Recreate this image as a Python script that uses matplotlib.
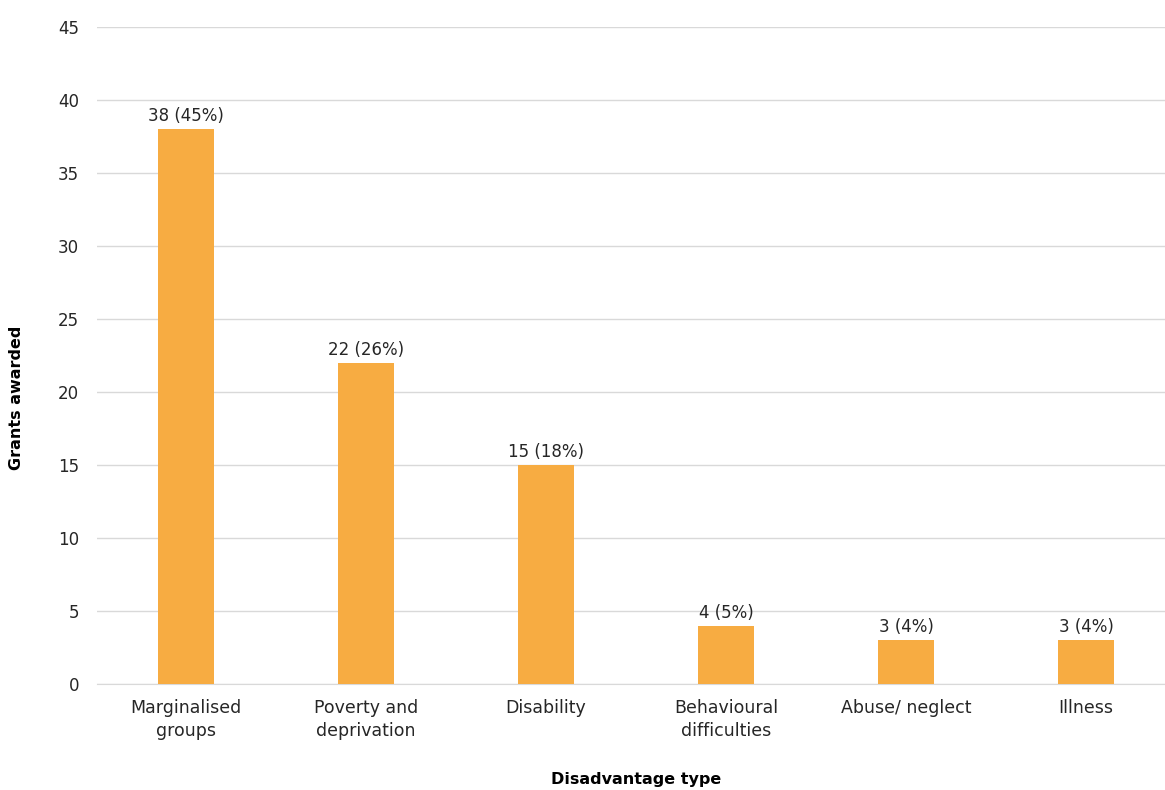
import matplotlib.pyplot as plt

categories = ["Marginalised\ngroups", "Poverty and\ndeprivation", "Disability",
              "Behavioural\ndifficulties", "Abuse/ neglect", "Illness"]
grants = [38, 22, 15, 4, 3, 3]
shares = [45, 26, 18, 5, 4, 4]
y_ticks = [0, 5, 10, 15, 20, 25, 30, 35, 40, 45]

plt.rcParams['font.family'] = ['DejaVu Sans']

fig = plt.figure(figsize=(11.65, 7.9), dpi=100)
ax = fig.add_axes([0.0833, 0.134, 0.9167, 0.832])

x = range(len(categories))
bars = ax.bar(x, grants, width=0.31, color='#F7AC42', zorder=3)
for xi, g, s in zip(x, grants, shares):
    ax.annotate(f"{g} ({s}%)", (xi, g), xytext=(0, 3), textcoords='offset points',
                ha='center', va='bottom', fontsize=12, color='#262626')

ax.set_xlim(-0.494, 5.439)
ax.set_ylim(0, 45)
ax.set_yticks(y_ticks)
ax.set_xticks(list(x))
ax.set_xticklabels(categories, fontsize=12.5, color='#262626', linespacing=1.3)
ax.tick_params(axis='y', labelsize=12, labelcolor='#262626', length=0, pad=13)
ax.tick_params(axis='x', length=0, pad=11)
ax.grid(axis='y', color='#D9D9D9', linewidth=1, zorder=0)
for side in ['top', 'right', 'left']:
    ax.spines[side].set_visible(False)
ax.spines['bottom'].set_color('#D9D9D9')

ax.set_ylabel("Grants awarded", fontsize=11.5, fontweight='bold')
ax.yaxis.set_label_coords(-0.068, 0.435)
fig.text(0.546, 0.013, "Disadvantage type", ha='center', va='center',
         fontsize=11.5, fontweight='bold')

fig.savefig("out.png", dpi=100)
